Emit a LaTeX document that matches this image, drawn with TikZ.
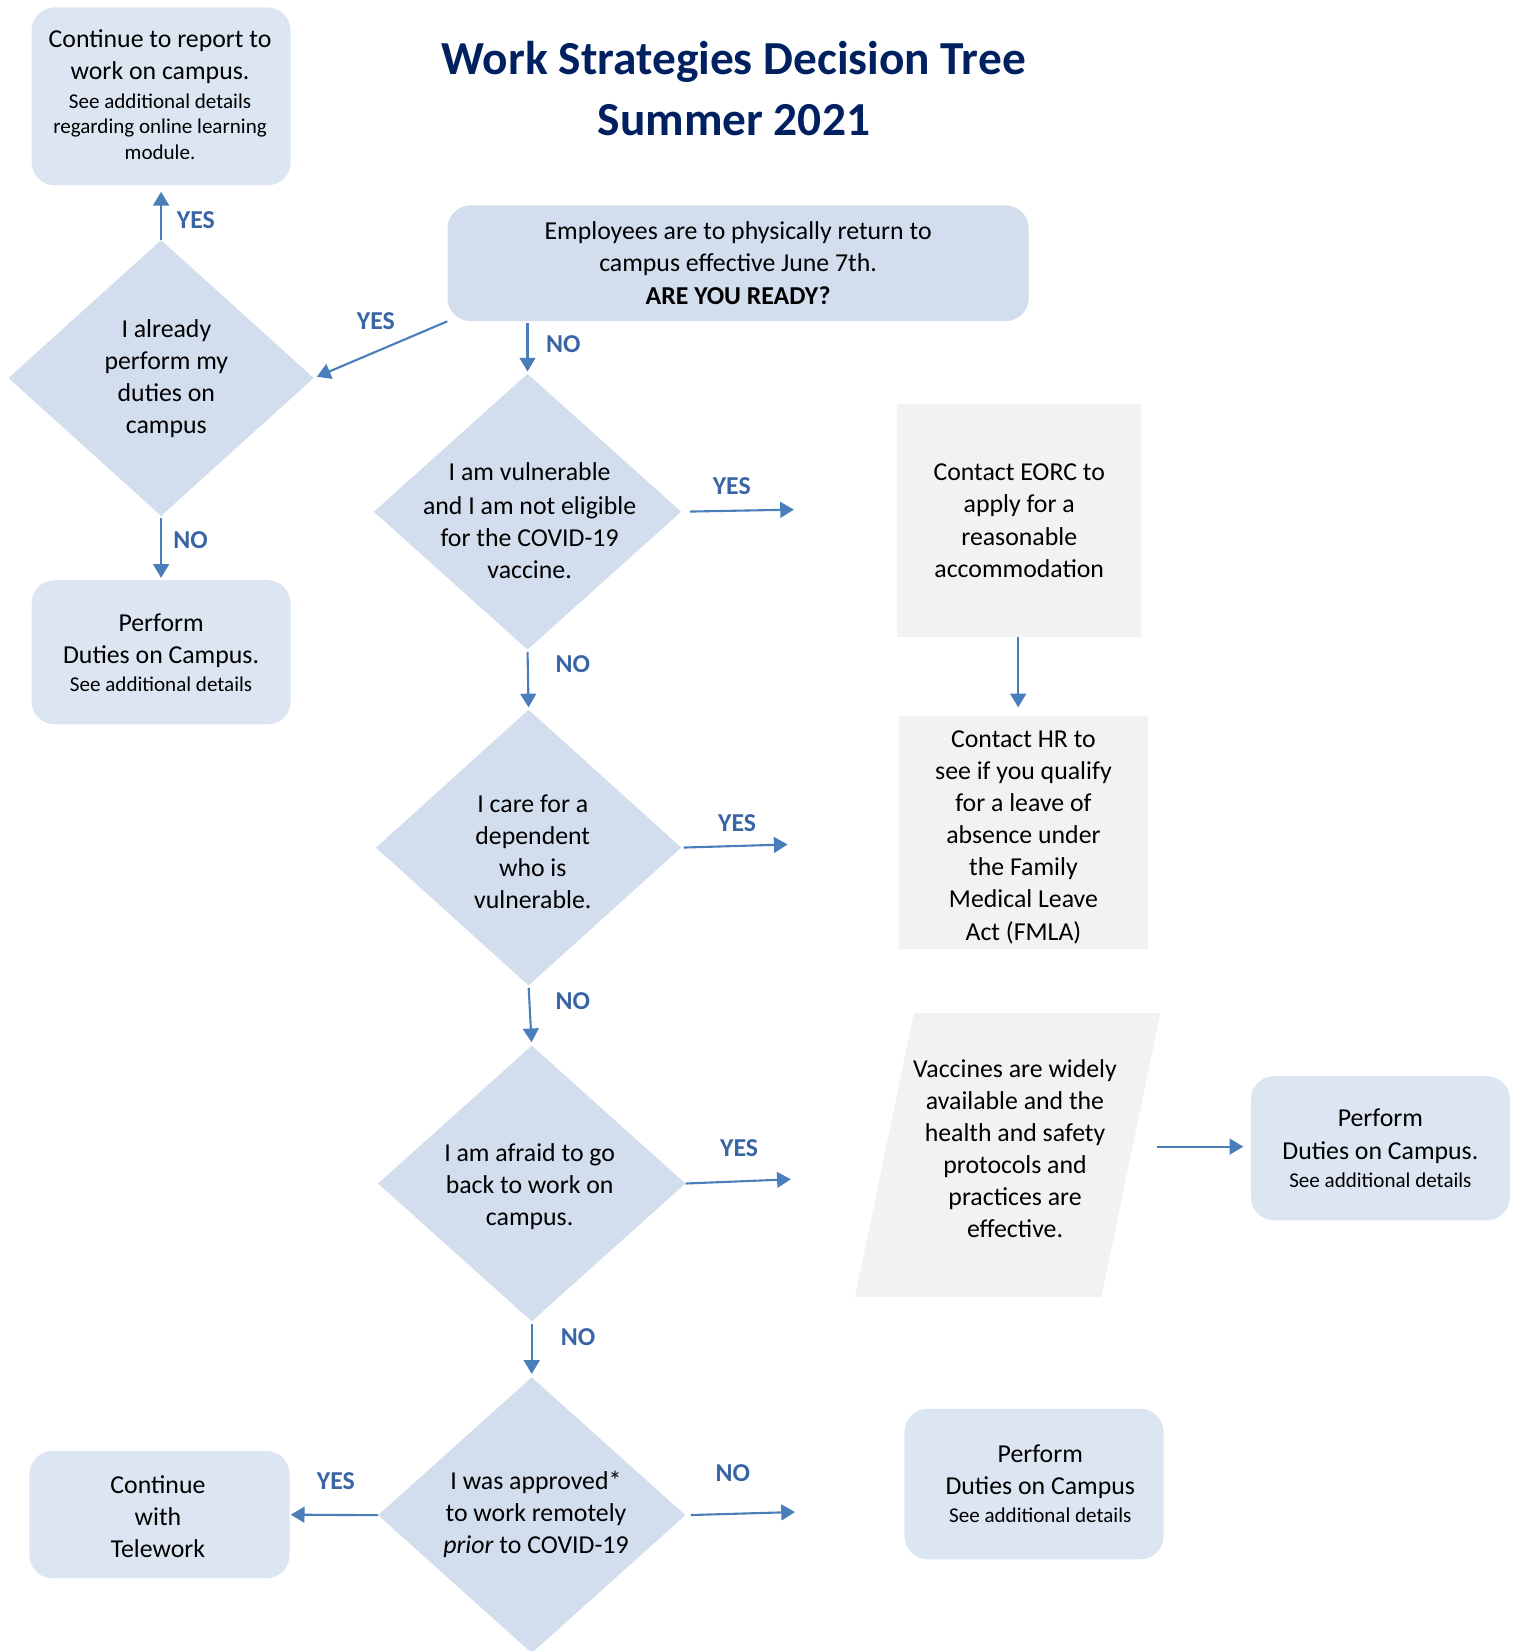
\documentclass[tikz,border=0pt]{standalone}
\usepackage{fontspec}
\setmainfont{Carlito}
\usetikzlibrary{shapes.geometric,arrows.meta}
\definecolor{boxblue}{HTML}{DCE5F2}
\definecolor{diablue}{HTML}{D2DDEE}
\definecolor{grayfill}{HTML}{F2F2F2}
\definecolor{arrowblue}{HTML}{4A7EBB}
\definecolor{labelblue}{HTML}{3A65A5}
\definecolor{navy}{HTML}{002060}
\newcommand\mainsz{\fontsize{24.5}{30.5}\selectfont}
\newcommand\smallsz{\fontsize{20}{24.5}\selectfont}
\newcommand\titlesz{\fontsize{45}{58}\selectfont}
\tikzset{
 rbox/.style={rectangle, rounded corners=22pt, fill=boxblue, inner sep=0pt, align=center, font=\mainsz},
 gbox/.style={rectangle, fill=grayfill, inner sep=0pt, align=center, font=\mainsz},
 dia/.style={diamond, fill=diablue, inner sep=0pt, minimum width=290pt, minimum height=262pt},
 dtext/.style={align=center, font=\mainsz, inner sep=0pt},
 arr/.style={draw=arrowblue, line width=2pt, -{Triangle[length=13pt,width=15pt]}},
 lbl/.style={text=labelblue, font=\mainsz\bfseries, inner sep=0pt},
}
\begin{document}
\begin{tikzpicture}[x=1pt,y=-1pt]
\useasboundingbox (0,0) rectangle (1443,1568);
% title
\node[font=\titlesz\bfseries, text=navy, align=center, inner sep=0pt] (title) at (697,84) {Work Strategies Decision Tree\\Summer 2021};
% boxes
\node[rbox, minimum width=246pt, minimum height=169pt] (A) at (153,91.5) {};
\node[dtext] (At) at (152,90) {Continue to report to\\work on campus.\\[-3.5pt]\smallsz See additional details\\[-6pt]\smallsz regarding online learning\\[-6pt]\smallsz module.};
\node[rbox, fill=diablue, minimum width=552pt, minimum height=110pt] (S) at (701,250) {Employees are to physically return to\\campus effective June 7th.\\[1pt]\textbf{ARE YOU READY?}};
\node[rbox, minimum width=246pt, minimum height=137pt] (PL) at (153,619.5) {Perform\\Duties on Campus.\\[-4pt]\smallsz See additional details};
\node[gbox, minimum width=232pt, minimum height=221pt] (E) at (968,494.5) {Contact EORC to\\apply for a\\reasonable\\accommodation};
\node[gbox, minimum width=236pt, minimum height=221pt] (HR) at (972,790.5) {};
\node[dtext] (HRt) at (972,795) {Contact HR to\\see if you qualify\\for a leave of\\absence under\\the Family\\Medical Leave\\Act (FMLA)};
\node[rbox, minimum width=246pt, minimum height=137pt] (PR) at (1311,1090.5) {Perform\\Duties on Campus.\\[-4pt]\smallsz See additional details};
\node[rbox, minimum width=247pt, minimum height=121pt] (T) at (151.5,1438.5) {};
\node[dtext] (Tt) at (150,1440.5) {Continue\\with\\Telework};
\node[rbox, minimum width=246pt, minimum height=143pt] (PB) at (982,1409.5) {};
\node[dtext] (PBt) at (988,1409) {Perform\\Duties on Campus\\[-4pt]\smallsz See additional details};
% parallelogram
\fill[grayfill] (868,962) -- (1102,962) -- (1046,1232) -- (812,1232) -- cycle;
\node[dtext] (par) at (964,1091) {Vaccines are widely\\available and the\\health and safety\\protocols and\\practices are\\effective.};
% diamonds
\node[dia] (d1) at (153,359) {};
\node[dtext] (d1t) at (158,359.5) {I already\\perform my\\duties on\\campus};
\node[dia, minimum width=292pt] (d2) at (501,486) {};
\node[dtext] (d2t) at (503,494.5) {I am vulnerable\\[2pt]and I am not eligible\\for the COVID-19\\vaccine.};
\node[dia] (d3) at (502,805) {};
\node[dtext] (d3t) at (506,809) {I care for a\\dependent\\who is\\vulnerable.};
\node[dia, minimum width=292pt] (d4) at (505,1124) {};
\node[dtext] (d4t) at (503,1127) {I am afraid to go\\back to work on\\campus.};
\node[dia, minimum width=292pt] (d5) at (505,1439) {};
\node[dtext] (d5t) at (509,1438) {I was approved*\\to work remotely\\\textit{prior} to COVID-19};
% free ends
\coordinate (y2) at (754,484);
\coordinate (y3) at (748,802);
\coordinate (y4) at (751,1120);
\coordinate (n5) at (755,1436);
\coordinate (pe) at (1099,1089);
% arrows
\draw[arr, shorten >=6pt] (d1.north) -- (A.south);
\draw[arr, shorten >=3pt] (S.south west) -- (d1.east);
\draw[arr, shorten <=2pt, shorten >=2pt] (S.south -| d2.north) -- (d2.north);
\draw[arr, shorten <=8pt] (d2.east) -- (y2);
\draw[arr, shorten >=8pt] (E.south -| 967,0) -- (HR.north -| 967,0);
\draw[arr, shorten <=2pt, shorten >=2pt] (d2.south) -- (d3.north);
\draw[arr, shorten <=2pt] (d3.east) -- (y3);
\draw[arr, shorten <=2pt, shorten >=3pt] (d3.south) -- (d4.north);
\draw[arr] (d4.east) -- (y4);
\draw[arr, shorten >=7pt] (pe) -- (PR.west |- pe);
\draw[arr, shorten <=2pt, shorten >=3pt] (d4.south) -- (d5.north);
\draw[arr, shorten >=1pt] (d5.west) -- (T.east);
\draw[arr, shorten <=5pt] (d5.east) -- (n5);
\draw[arr, shorten <=2pt, shorten >=2pt] (d1.south) -- (PL.north);
% labels
\node[lbl] (l1) at (186,209) {YES};
\node[lbl] (l2) at (357,305) {YES};
\node[lbl] (l3) at (535,327) {NO};
\node[lbl] (l4) at (695,462) {YES};
\node[lbl] (l5) at (181,513) {NO};
\node[lbl] (l6) at (544,631) {NO};
\node[lbl] (l7) at (700,782) {YES};
\node[lbl] (l8) at (544,951) {NO};
\node[lbl] (l9) at (702,1090) {YES};
\node[lbl] (l10) at (549,1270) {NO};
\node[lbl] (l11) at (319,1407) {YES};
\node[lbl] (l12) at (696,1399) {NO};
\end{tikzpicture}
\end{document}
